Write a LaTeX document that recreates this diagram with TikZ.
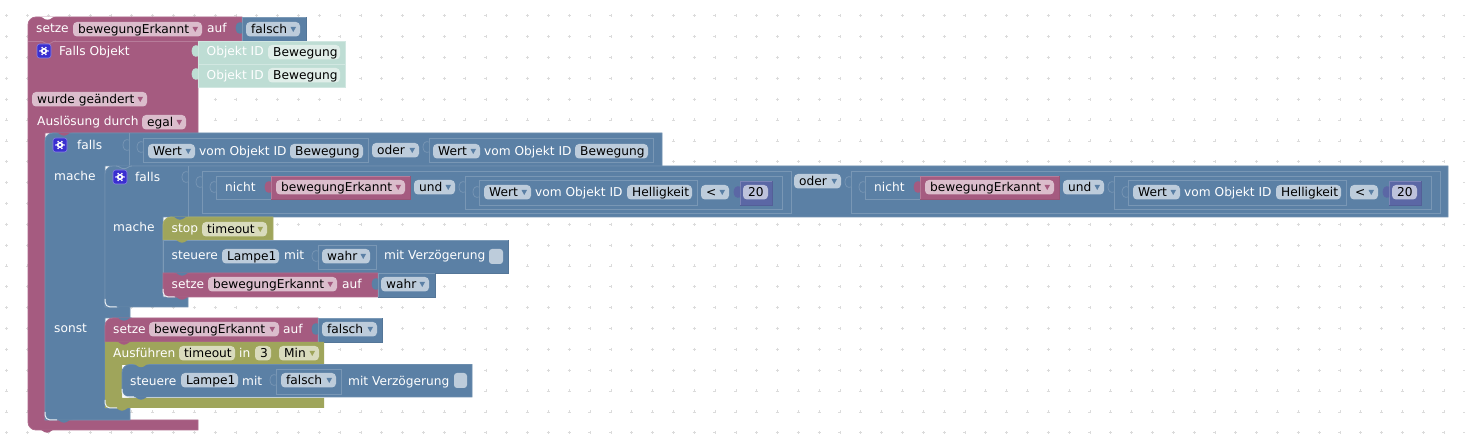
\documentclass[tikz,border=0pt]{standalone}
\usepackage{fontspec}
\setmainfont{DejaVu Sans}
\usepackage{tikz}

\definecolor{blockmagenta}{HTML}{A55B80}
\definecolor{blockblue}{HTML}{5B80A5}
\definecolor{blockolive}{HTML}{9FA55B}
\definecolor{blockmint}{HTML}{BEDDD4}
\definecolor{blockpurple}{HTML}{5B67A5}
\definecolor{pillmagenta}{HTML}{DBBDCC}
\definecolor{pillblue}{HTML}{BDCCDB}
\definecolor{pillolive}{HTML}{D9DBBD}
\definecolor{pillmint}{HTML}{E0EEE9}
\definecolor{pillpurple}{HTML}{BDC2DB}
\definecolor{iconblue}{HTML}{3A2FD0}
\colorlet{slotline}{blockblue!82!white}

% block with a light edge on top and left, a dark one below and on the right
\newcommand{\blockbox}[5]{
   \fill[#1] (#2,#3) rectangle (#4,#5);
   \draw[edge, #1!80!white] (#2,#5) -- (#2,#3) -- (#4,#3);
   \draw[edge, #1!92!black] (#2,#5) -- (#4,#5) -- (#4,#3);
}
% name, left, right, top, fill, text
\newcommand{\fieldpill}[6]{
   \fill[#5, rounded corners=4pt] (#2,#4) rectangle (#3,#4+14.5);
   \node[fieldtext] (#1) at (#2+5,#4+11.6) {#6};
}
% the same with the little arrow, last argument is the block colour
\newcommand{\droppill}[7]{
   \fieldpill{#1}{#2}{#3}{#4}{#5}{#6}
   \fill[#7] (#3-9.5,#4+5) -- (#3-4,#4+5) -- (#3-6.75,#4+10) -- cycle;
}
\newcommand{\lobe}[4]{
   \filldraw[fill=#1, draw=#2, line width=0.7pt] (#3,#4) .. controls (#3-8,#4-3) and (#3-8,#4+13) .. (#3,#4+10);
}
\newcommand{\notch}[3]{
   \fill[#1] (#2-8,#3-0.4) .. controls (#2-4,#3-0.4) and (#2-4,#3+2.7) .. (#2,#3+2.7)
      .. controls (#2+4,#3+2.7) and (#2+4,#3-0.4) .. (#2+8,#3-0.4) -- cycle;
}
% notch between two blocks of one colour, only its edge shows
\newcommand{\notchline}[3]{
   \notch{#1}{#2}{#3}
   \draw[edge, #1!80!white] (#2-8,#3) .. controls (#2-4,#3) and (#2-4,#3+2.7) .. (#2,#3+2.7)
      .. controls (#2+4,#3+2.7) and (#2+4,#3) .. (#2+8,#3);
}
\newcommand{\gearicon}[2]{
   \filldraw[fill=iconblue, draw=iconblue!60!white, line width=0.6pt, rounded corners=2.5pt] (#1,#2) rectangle (#1+14,#2+14);
   \foreach \a in {0,60,...,300} {
      \fill[white] (#1+7,#2+7) ++(\a:3.9) circle (0.9);
   }
   \fill[white] (#1+7,#2+7) circle (3.2);
   \fill[iconblue] (#1+7,#2+7) circle (1.4);
}
\newcommand{\innercorner}[2]{
   \draw[cornerline, rounded corners=5pt] (#1,#2-8) -- (#1,#2) -- (#1+12,#2);
}

\begin{document}
\begin{tikzpicture}
      [x = 1pt, y = -1pt,
      edge/.style = {line width = 0.8pt},
      label/.style = {anchor = base west, text = white, inner sep = 0pt,
         font = \fontsize{12.2}{14}\selectfont},
      fieldtext/.style = {anchor = base west, text = black, inner sep = 0pt,
         font = \fontsize{12.2}{14}\selectfont},
      slot/.style = {fill = blockblue, draw = slotline, line width = 0.8pt},
      mintblock/.style = {fill = blockmint, draw = blockmint!70!white, line width = 0.8pt},
      cornerline/.style = {draw = white!88!blockblue, line width = 1pt},
      gridmark/.style = {draw = black!14, line width = 0.5pt}]
      \useasboundingbox (0, 0) rectangle (1465, 443);
      \fill[white] (0, 0) rectangle (1465, 443);

      % background grid
      \foreach \i in {0,...,70} {
         \foreach \j in {0,...,20} {
            \draw[gridmark] (6.7 + 20.83 * \i - 1.5, 15.7 + 20.85 * \j) -- ++(3, 0)
               (6.7 + 20.83 * \i, 15.7 + 20.85 * \j - 1.5) -- ++(0, 3);
         }
      }

      % outer set block, with the trigger wrapped round everything
      \filldraw[fill = blockmagenta, draw = blockmagenta!90!white, line width = 0.8pt]
         (60, 17) [rounded corners = 8pt] -- (28, 17) -- (28, 430) -- (60, 430) [sharp corners]
         -- (198, 430) -- (198, 420) -- (45, 420) -- (45, 133) -- (198, 133) -- (198, 41)
         -- (242, 41) -- (242, 17) -- cycle;
      \notch{white}{47.5}{17}
      \draw[edge, blockmagenta!80!white] (28, 41) -- (198, 41);
      \notchline{blockmagenta}{48}{41}
      \notch{blockmagenta}{47}{430}
      \blockbox{blockblue}{242}{17}{306}{41}
      \lobe{blockblue}{blockblue}{242}{23}
      \filldraw[mintblock] (198, 41) rectangle (345, 64);
      \filldraw[mintblock] (198, 64) rectangle (345, 87);
      \lobe{blockmint}{blockmint}{198}{46}
      \lobe{blockmint}{blockmint}{198}{69}

      \node[label] (setzeTop) at (36, 33) {setze};
      \droppill{varTop}{73}{202}{22}{pillmagenta}{bewegungErkannt}{blockmagenta}
      \node[label] (aufTop) at (207, 33) {auf};
      \droppill{falschTop}{246}{300}{22}{pillblue}{falsch}{blockblue}
      \gearicon{37}{44}
      \node[label] (fallsObjekt) at (59, 56) {Falls Objekt};
      \node[label] (objektA) at (206.5, 56) {Objekt ID};
      \fieldpill{bewegungA}{268}{340}{45}{pillmint}{Bewegung}
      \node[label] (objektB) at (206.5, 79.5) {Objekt ID};
      \fieldpill{bewegungB}{268}{340}{68}{pillmint}{Bewegung}
      \droppill{geaendert}{32}{147}{92}{pillmagenta}{wurde geändert}{blockmagenta}
      \node[label] (ausloesung) at (37, 126) {Auslösung durch};
      \droppill{egal}{142}{186}{115}{pillmagenta}{egal}{blockmagenta}

      % outer if / else
      \filldraw[fill = blockblue, draw = blockblue!88!white, line width = 0.8pt]
         (70, 133) [rounded corners = 8pt] -- (45, 133) [sharp corners] -- (45, 420) -- (130, 420)
         -- (130, 408) -- (105, 408) -- (105, 318) -- (130, 318) -- (130, 307) -- (105, 307)
         -- (105, 166) -- (662, 166) -- (662, 133) -- cycle;
      \notch{blockmagenta}{64}{133}
      \notch{blockblue}{64}{420}
      \draw[edge, slotline] (129, 133) -- (129, 166);
      \lobe{blockblue}{slotline}{129}{140}
      \gearicon{53}{138}
      \node[label] (fallsOuter) at (77, 150) {falls};
      \node[label] (macheOuter) at (54, 181) {mache};
      \node[label] (sonstOuter) at (54, 333) {sonst};

      \draw[slot] (143, 138) rectangle (368, 162);
      \lobe{blockblue}{slotline}{143}{142}
      \droppill{wertA}{148}{195}{144}{pillblue}{Wert}{blockblue}
      \node[label] (vomA) at (199, 155.5) {vom Objekt ID};
      \fieldpill{bewegungC}{290}{363}{144}{pillblue}{Bewegung}
      \droppill{oderTop}{372}{419}{143}{pillblue}{oder}{blockblue}
      \draw[slot] (429, 138) rectangle (653, 162);
      \lobe{blockblue}{slotline}{429}{142}
      \droppill{wertB}{433}{480}{144}{pillblue}{Wert}{blockblue}
      \node[label] (vomB) at (484, 155.5) {vom Objekt ID};
      \fieldpill{bewegungD}{575}{648}{144}{pillblue}{Bewegung}

      % inner if
      \filldraw[fill = blockblue, draw = blockblue!88!white, line width = 0.8pt]
         (125, 166) [rounded corners = 8pt] -- (105, 166) [sharp corners] -- (105, 307) -- (188, 307)
         -- (188, 297) -- (163, 297) -- (163, 217) -- (1448, 217) -- (1448, 166) -- cycle;
      \notchline{blockblue}{124}{166}
      \draw[edge, slotline] (188, 166) -- (188, 217);
      \lobe{blockblue}{slotline}{188}{172}
      \gearicon{113}{170}
      \node[label] (fallsInner) at (135, 182) {falls};
      \node[label] (macheInner) at (113, 232) {mache};
      \droppill{oderInner}{794}{841}{174}{pillblue}{oder}{blockblue}

      \foreach \shift/\tag in {0/A, 649/B} {
         \begin{scope}[xshift = \shift pt]
            \draw[slot] (202, 171) rectangle (791, 213);
            \lobe{blockblue}{slotline}{202}{177}
            \draw[slot] (216, 176) rectangle (273, 199);
            \lobe{blockblue}{slotline}{216}{182}
            \node[label] (nicht\tag) at (225, 192) {nicht};
            \blockbox{blockmagenta}{271}{176}{410}{199}
            \lobe{blockmagenta}{blockmagenta}{271}{182}
            \droppill{varNicht\tag}{276}{405}{180}{pillmagenta}{bewegungErkannt}{blockmagenta}
            \droppill{und\tag}{414}{455}{180}{pillblue}{und}{blockblue}
            \draw[slot] (465, 176) rectangle (782, 209);
            \lobe{blockblue}{slotline}{465}{182}
            \draw[slot] (479, 180) rectangle (697, 205);
            \lobe{blockblue}{slotline}{479}{187}
            \droppill{wertC\tag}{484}{531}{185}{pillblue}{Wert}{blockblue}
            \node[label] (vomC\tag) at (535, 197) {vom Objekt ID};
            \fieldpill{helligkeit\tag}{627}{692}{185}{pillblue}{Helligkeit}
            \droppill{kleiner\tag}{701}{729}{185}{pillblue}{<}{blockblue}
            \blockbox{blockpurple}{740}{181}{772}{205}
            \lobe{blockpurple}{blockpurple}{740}{187}
            \fieldpill{zahl\tag}{743}{768}{185}{pillpurple}{20}
         \end{scope}
      }

      % then branch
      \innercorner{105}{307}
      \notch{blockblue}{124}{307}
      \filldraw[fill = blockolive, draw = blockolive!90!white, line width = 0.8pt]
         (185, 217) [rounded corners = 8pt] -- (163, 217) [sharp corners] -- (163, 240) -- (273, 240) -- (273, 217) -- cycle;
      \notch{blockblue}{180}{217}
      \node[label] (stopLabel) at (171.5, 233) {stop};
      \droppill{stopTimeout}{202}{267}{222}{pillolive}{timeout}{blockolive}

      \blockbox{blockblue}{163}{240}{508}{273}
      \notch{blockolive}{182}{240}
      \node[label] (steuereA) at (171.5, 260) {steuere};
      \fieldpill{lampeA}{222}{279}{249}{pillblue}{Lampe1}
      \node[label] (mitA) at (284, 260) {mit};
      \draw[slot] (318, 245) rectangle (376, 269);
      \lobe{blockblue}{slotline}{318}{251}
      \droppill{wahrA}{322}{370}{249}{pillblue}{wahr}{blockblue}
      \node[label] (verzoegerungA) at (384, 260) {mit Verzögerung};
      \fill[pillblue, rounded corners = 3pt] (489, 249) rectangle (503, 264);

      \filldraw[fill = blockmagenta, draw = blockmagenta!90!white, line width = 0.8pt]
         (163, 283) [rounded corners = 5pt] -- (163, 297) [sharp corners] -- (378, 297) -- (378, 273) -- (163, 273) -- cycle;
      \innercorner{163}{297}
      \notch{blockblue}{182}{273}
      \notch{blockmagenta}{182}{297}
      \blockbox{blockblue}{378}{273}{435}{297}
      \lobe{blockblue}{blockblue}{378}{279}
      \node[label] (setzeA) at (171.5, 289) {setze};
      \droppill{varA}{208}{337}{277}{pillmagenta}{bewegungErkannt}{blockmagenta}
      \node[label] (aufA) at (342, 289) {auf};
      \droppill{wahrB}{381}{429}{277}{pillblue}{wahr}{blockblue}

      % else branch
      \filldraw[fill = blockmagenta, draw = blockmagenta!90!white, line width = 0.8pt]
         (125, 318) [rounded corners = 8pt] -- (105, 318) [sharp corners] -- (105, 342) -- (318, 342) -- (318, 318) -- cycle;
      \notch{blockblue}{124}{318}
      \blockbox{blockblue}{318}{318}{382}{342}
      \lobe{blockblue}{blockblue}{318}{324}
      \node[label] (setzeB) at (113, 334) {setze};
      \droppill{varB}{149}{279}{322}{pillmagenta}{bewegungErkannt}{blockmagenta}
      \node[label] (aufB) at (283, 334) {auf};
      \droppill{falschB}{322}{377}{322}{pillblue}{falsch}{blockblue}

      \fill[blockolive] (105, 342) -- (105, 408) -- (324, 408) -- (324, 398) -- (122, 398)
         -- (122, 365) -- (324, 365) -- (324, 342) -- cycle;
      \notch{blockmagenta}{124}{342}
      \notch{blockolive}{122}{408}
      \innercorner{105}{408}
      \node[label] (ausfuehren) at (113, 358) {Ausführen};
      \fieldpill{timeoutB}{179}{235}{346}{pillolive}{timeout}
      \node[label] (inLabel) at (239, 358) {in};
      \fieldpill{dreiMin}{255}{271}{346}{pillolive}{3}
      \droppill{minuten}{279}{319}{346}{pillolive}{Min}{blockolive}

      \filldraw[fill = blockblue, draw = blockblue!90!white, line width = 0.8pt]
         (140, 364.5) [rounded corners = 8pt] -- (122, 364.5) -- (122, 397) -- (140, 397) [sharp corners]
         -- (472, 397) -- (472, 364.5) -- cycle;
      \notch{blockolive}{141}{364.5}
      \notch{blockblue}{141}{397}
      \innercorner{122}{397}
      \node[label] (steuereB) at (130, 386) {steuere};
      \fieldpill{lampeB}{181}{238}{373}{pillblue}{Lampe1}
      \node[label] (mitB) at (242, 386) {mit};
      \draw[slot] (276, 369) rectangle (341, 394);
      \lobe{blockblue}{slotline}{276}{375}
      \droppill{falschC}{281}{336}{373}{pillblue}{falsch}{blockblue}
      \node[label] (verzoegerungB) at (348, 386) {mit Verzögerung};
      \fill[pillblue, rounded corners = 3pt] (454, 373) rectangle (467, 388);

      \innercorner{45}{420}
   \end{tikzpicture}
\end{document}
